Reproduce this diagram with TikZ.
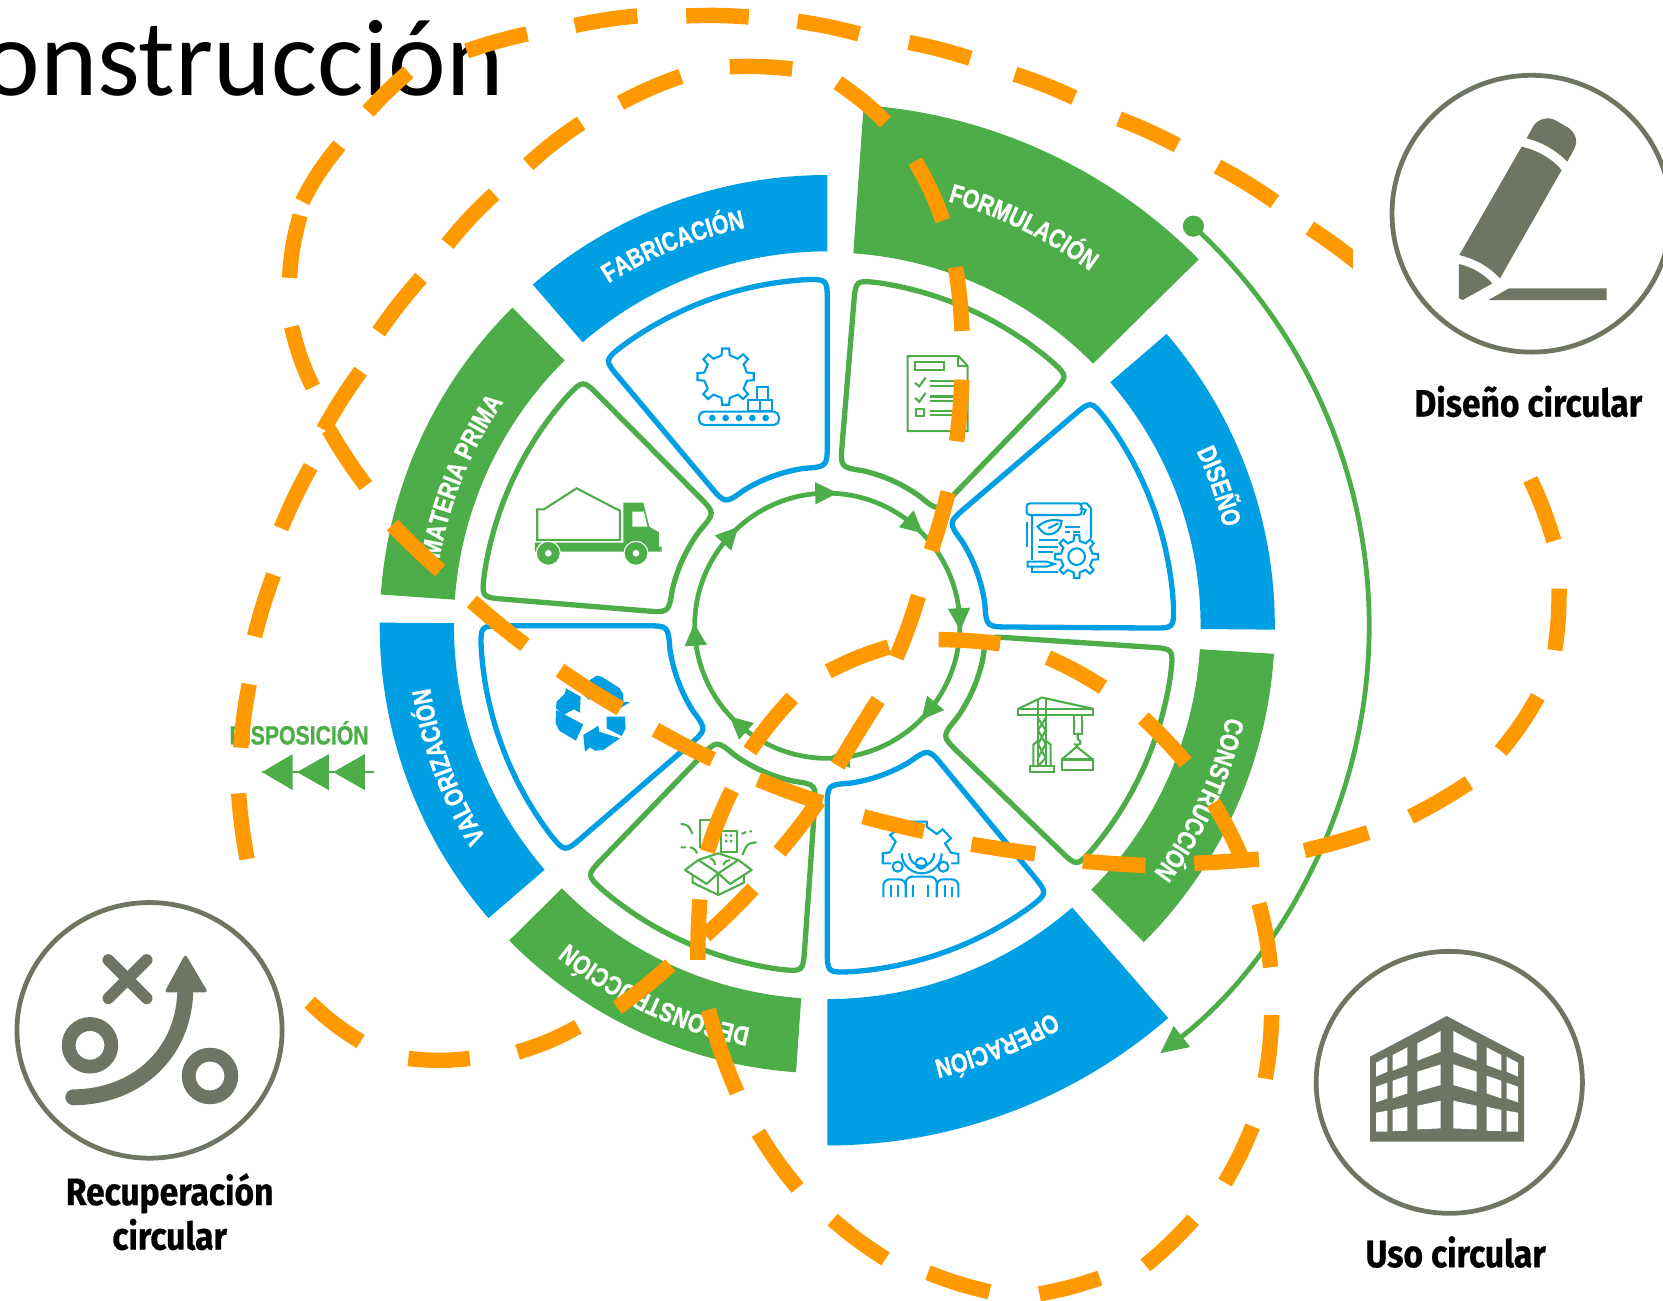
\documentclass[tikz,border=0pt]{standalone}
\usepackage{fontspec}
\usetikzlibrary{arrows.meta,decorations.text,shapes.geometric}
\newfontfamily\capfont[FakeStretch=0.88,FakeBold=0.6]{Fira Sans}
\newfontfamily\ringfont[FakeStretch=0.8,FakeBold=1]{Liberation Sans}
\newfontfamily\titlefont{Carlito}
\definecolor{ringgreen}{HTML}{4DAE49}
\definecolor{ringblue}{HTML}{009FE3}
\definecolor{dashorange}{HTML}{FF9900}
\definecolor{stonegray}{HTML}{6E7562}
\newcommand\ringseg[5]{\fill[#5] (#1:#4) arc[start angle=#1,end angle=#2,radius=#4] -- (#2:#3) arc[start angle=#2,end angle=#1,radius=#3] -- cycle;}
\newcommand\cellwedge[3]{\draw[cell,#3] ({#1-3.85}:327) arc[start angle={#1-3.85},end angle={#2+3.85},radius=327] .. controls (#2:327) .. (#2:305) -- (#2:172) .. controls (#2:150) .. ({#2+8.4}:150) arc[start angle={#2+8.4},end angle={#1-8.4},radius=150] .. controls (#1:150) .. (#1:172) -- (#1:305) .. controls (#1:327) .. cycle;}
\newcommand\ringlabel[3]{\path[decorate,decoration={text along path,text align=center,text={|\ringfont\bfseries\fontsize{25}{25}\selectfont\color{white}|#3}}] ({#1+40}:#2) arc[start angle={#1+40},end angle={#1-40},radius=#2];}
\newcommand\hubarrow[1]{\fill[ringgreen,shift={(#1:125)},rotate={#1-90}] (11,0) -- (-10,10.5) -- (-10,-10.5) -- cycle;}
\newcommand\gearwheel[5]{\draw[icon,fill=white,shift={(#1,#2)}] (-11:#3) \foreach \t in {0,#5,...,359} { -- ({\t-11}:#3) -- ({\t-7}:#4) -- ({\t+7}:#4) -- ({\t+11}:#3) } -- cycle;}
\newcommand\bldgwindows{\fill[white] (258,398) -- (292,380) -- (292,425) -- (258,440) -- cycle (308,375) -- (352,352) -- (352,405) -- (308,422) -- cycle (382,340) -- (452,303) -- (452,365) -- (382,392) -- cycle (258,470) -- (292,458) -- (292,505) -- (258,517) -- cycle (308,452) -- (352,437) -- (352,490) -- (308,505) -- cycle (382,425) -- (452,403) -- (452,465) -- (382,485) -- cycle (258,548) -- (292,542) -- (292,605) -- (258,605) -- cycle (308,540) -- (352,530) -- (352,602) -- (308,603) -- cycle (382,527) -- (452,512) -- (452,595) -- (382,598) -- cycle;}
\begin{document}
\begin{tikzpicture}[x=1pt,y=-1pt,
  cell/.style={line width=5pt},
  icon/.style={line width=2pt},
  odash/.style={dashorange,line width=14.5pt},
  roundel/.style={draw=stonegray,ellipse,line width=4.5pt,inner sep=0pt},
  caption/.style={font=\capfont\bfseries\fontsize{36}{42}\selectfont,align=center,inner sep=0pt},
  hubline/.style={ringgreen,line width=4.5pt}]
\useasboundingbox (0,0) rectangle (1568,1226);
\begin{scope}[shift={(780,590)},x=1pt,y=1pt]
\ringseg{86}{44.6}{352}{492}{ringgreen}
\ringseg{40.7}{-0.5}{352}{422}{ringblue}
\ringseg{-3.6}{-45}{352}{422}{ringgreen}
\ringseg{-49}{-90}{352}{490}{ringblue}
\ringseg{-94}{-135.3}{352}{422}{ringgreen}
\ringseg{-139.2}{-180.4}{352}{422}{ringblue}
\ringseg{176}{134.7}{352}{422}{ringgreen}
\ringseg{130.8}{90}{353}{425}{ringblue}
\cellwedge{85.3}{46}{ringgreen}
\cellwedge{40.5}{-0.4}{ringblue}
\cellwedge{-3.8}{-44}{ringgreen}
\cellwedge{-50.5}{-90}{ringblue}
\cellwedge{-94}{-134}{ringgreen}
\cellwedge{-139.2}{-180}{ringblue}
\cellwedge{175.3}{134.8}{ringgreen}
\cellwedge{130}{90}{ringblue}
\ringlabel{63.8}{416}{FORMULACIÓN}
\ringlabel{19.6}{385}{DISEÑO}
\ringlabel{-25}{386}{CONSTRUCCIÓN}
\ringlabel{-68}{422}{OPERACIÓN}
\ringlabel{-115}{386}{DECONSTRUCCIÓN}
\ringlabel{200.4}{379}{VALORIZACIÓN}
\ringlabel{157.8}{371}{MATERIA PRIMA}
\ringlabel{112.1}{383}{FABRICACIÓN}
\draw[hubline] (0,0) circle (125);
\hubarrow{90.6}
\hubarrow{49}
\hubarrow{3}
\hubarrow{-40}
\hubarrow{-85}
\hubarrow{-132}
\hubarrow{184}
\hubarrow{137}
\coordinate (arcstart) at (47.5:511);
\fill[ringgreen] (arcstart) circle (10);
\draw[ringgreen,line width=4.5pt,-{Triangle[length=26pt,width=24pt]}] (arcstart) arc[start angle=47.5,end angle=-52.1,radius=511];
\end{scope}
\begin{scope}[shift={(735.4,84.9)},x=.3143pt,y=-.3367pt,ringgreen]
\draw[icon] (383,745) -- (535,745) -- (563,772) -- (563,955) -- (383,955) -- cycle;
\draw[icon] (535,745) -- (535,772) -- (563,772);
\draw[icon] (405,762) rectangle (493,785);
\draw[icon] (405,820) -- (418,830) -- (437,805);
\draw[icon] (405,862) -- (418,873) -- (437,848);
\draw[icon] (408,892) rectangle (432,913);
\draw[icon] (450,815) -- (540,815) (450,828) -- (540,828) (450,858) -- (540,858) (450,871) -- (540,871) (450,898) -- (540,898) (450,911) -- (540,911);
\end{scope}
\begin{scope}[shift={(957,466.7)},x=.3143pt,y=-.3143pt,ringblue]
\draw[icon,rounded corners=3pt] (35,25) rectangle (200,60);
\draw[icon] (200,25) -- (215,25) -- (228,40) -- (228,130) (195,40) -- (212,45) -- (205,60);
\draw[icon] (52,60) -- (52,195) (35,82) -- (35,155);
\draw[icon] (38,200) -- (95,200) -- (118,207) -- (95,215) -- (38,215) -- cycle;
\draw[icon] (52,215) -- (52,232) -- (130,232);
\draw[icon] (68,95) .. controls (90,75) and (115,72) .. (140,78) .. controls (138,100) and (125,118) .. (100,118) .. controls (88,118) and (78,108) .. (68,95) -- cycle;
\draw[icon] (100,100) -- (130,85);
\draw[icon] (150,95) -- (195,95) (150,110) -- (165,110) (175,110) -- (195,110);
\draw[icon] (72,135) -- (128,135) (70,155) -- (130,155) (70,172) -- (115,172);
\gearwheel{185}{185}{48}{65}{45}
\draw[icon] (185,185) circle (25);
\end{scope}
\begin{scope}[shift={(339.4,141.4)},x=.3143pt,y=-.3143pt,ringblue]
\gearwheel{1097}{680}{65}{85}{45}
\draw[icon,fill=white] (1165,750) rectangle (1200,782);
\draw[icon,fill=white] (1200,750) rectangle (1237,782);
\draw[icon,fill=white] (1190,712) rectangle (1225,750);
\draw[icon,rounded corners=5pt] (1017,785) rectangle (1257,825);
\fill (1057,804) circle (10);
\fill (1097,804) circle (10);
\fill (1137,804) circle (10);
\fill (1177,804) circle (10);
\fill (1217,804) circle (10);
\end{scope}
\begin{scope}[shift={(339.4,141.4)},x=.3143pt,y=-.3143pt,ringgreen]
\draw[icon] (532,1170) -- (532,1078) -- (552,1078) -- (650,1015) -- (765,1075) -- (780,1082) -- (780,1170) -- cycle;
\fill (790,1058) -- (850,1058) -- (868,1130) -- (897,1147) -- (897,1190) -- (905,1190) -- (905,1205) -- (525,1205) -- (525,1178) -- (790,1178) -- cycle;
\fill[white] (817,1085) -- (852,1085) -- (862,1130) -- (817,1130) -- cycle;
\filldraw[draw=white,line width=1pt] (565,1210) circle (36);
\filldraw[draw=white,line width=1pt] (828,1210) circle (36);
\fill[white] (565,1210) circle (10);
\fill[white] (828,1210) circle (10);
\end{scope}
\begin{scope}[shift={(631.7,763.7)},x=.3143pt,y=-.3143pt,ringgreen]
\draw[icon] (90,115) -- (90,30) -- (135,30) -- (135,115);
\draw[icon] (152,125) -- (152,62) -- (202,62) -- (202,125) -- cycle;
\fill (165,73) rectangle (172,80) (180,73) rectangle (187,80) (165,90) rectangle (172,97) (180,90) rectangle (187,97);
\draw[icon] (32,42) .. controls (55,45) .. (68,72);
\draw[icon] (32,112) -- (48,112) (60,112) .. controls (72,115) .. (82,130);
\draw[icon] (260,97) .. controls (232,100) .. (217,135);
\draw[icon] (215,72) -- (228,66) (238,64) -- (246,64);
\draw[icon] (120,145) .. controls (132,150) .. (135,165) (160,165) .. controls (165,155) .. (180,150);
\draw[icon,line join=round] (45,180) -- (85,150) -- (145,190) -- (205,150) -- (245,180) -- (180,222) -- (145,190) -- (110,222) -- cycle;
\draw[icon] (85,150) -- (145,130) -- (205,150);
\draw[icon] (68,195) -- (68,218) -- (145,255) -- (222,218) -- (222,195);
\draw[icon] (145,190) -- (145,255);
\end{scope}
\begin{scope}[shift={(754.3,584.6)},x=.3143pt,y=-.3247pt,ringgreen]
\draw[icon] (655,258) rectangle (880,275);
\draw[icon] (655,258) -- (725,225) -- (880,258);
\draw[icon] (714,230) -- (714,425) (737,230) -- (737,425);
\draw[icon] (714,285) -- (737,320) -- (714,360) -- (737,400) -- (714,425);
\draw[icon] (737,285) -- (714,320) -- (737,360) -- (714,400);
\draw[icon] (700,425) -- (700,362) -- (714,350) (752,425) -- (752,362) -- (737,350);
\draw[icon] (690,425) rectangle (763,442);
\draw[icon] (822,275) rectangle (845,330);
\draw[icon] (833,330) -- (833,345) .. controls (850,355) and (840,368) .. (822,360);
\draw[icon] (785,405) -- (830,368) -- (878,405);
\draw[icon] (785,405) rectangle (880,435);
\end{scope}
\begin{scope}[shift={(815.6,763.7)},x=.3143pt,y=-.3143pt,ringblue]
\draw[icon] (78,160) -- (53,160) -- (53,130) -- (75,127) -- (92,95) -- (75,75) -- (100,58) -- (115,50) -- (115,35) -- (185,35) -- (185,50) -- (215,72) -- (233,58) -- (258,85) -- (240,100) -- (258,128) -- (280,132) -- (280,160) -- (258,160);
\draw[icon] (110,130) arc[start angle=180,end angle=0,radius=60];
\draw[icon] (132,130) arc[start angle=180,end angle=0,radius=38];
\draw[icon] (98,170) circle (15);
\draw[icon] (168,160) circle (16);
\draw[icon] (235,170) circle (15);
\draw[icon,rounded corners=6pt] (55,262) -- (55,208) -- (122,208) -- (122,262);
\draw[icon,rounded corners=6pt] (122,225) -- (122,200) -- (215,200) -- (215,225);
\draw[icon,rounded corners=6pt] (215,262) -- (215,208) -- (280,208) -- (280,262);
\draw[icon] (78,225) -- (78,262) (100,225) -- (100,262) (145,225) -- (145,262) (190,225) -- (190,262) (240,225) -- (240,262) (260,232) -- (260,262);
\end{scope}
\begin{scope}[shift={(509.1,622.3)},x=.3143pt,y=-.3143pt,ringblue]
\fill (150,60) -- (170,47) -- (185,50) -- (240,85) -- (250,103) -- (250,125) -- (270,127) -- (222,155) -- (185,115) -- (190,90) -- (170,80) -- (148,120) -- (125,100) -- cycle;
\fill (50,125) -- (75,100) -- (78,85) -- (122,110) -- (120,158) -- (102,148) -- (70,165) -- (48,145) -- cycle;
\fill (48,150) -- (130,193) -- (108,242) -- (58,212) -- (47,190) -- cycle;
\fill (200,170) -- (255,170) -- (257,205) -- (245,228) -- (200,205) -- cycle;
\fill (130,225) -- (175,197) -- (178,215) -- (240,235) -- (190,270) -- (165,272) -- (150,262) -- (135,275) -- cycle;
\end{scope}
\node (disposicion)[text=ringgreen,font=\ringfont\bfseries\fontsize{25}{25}\selectfont,inner sep=0pt] at (282,691) {DISPOSICIÓN};
\coordinate (flecha) at (353,728);
\coordinate (flechafin) at (247,728);
\draw[ringgreen,line width=2pt] (flecha) -- (flechafin);
\fill[ringgreen] (247,728) -- (276,711) -- (276,745) -- cycle;
\fill[ringgreen] (280,728) -- (310,711) -- (310,745) -- cycle;
\fill[ringgreen] (314,728) -- (344,711) -- (344,745) -- cycle;
\node (diseno)[roundel,minimum width=263pt,minimum height=261pt] at (1444,201.5) {};
\node (disenotxt)[caption,below of=diseno,node distance=177pt,xshift=-3pt] {Diseño circular};
\node (recup)[roundel,minimum width=250pt,minimum height=241pt] at (141,971.5) {};
\node (recuptxt)[caption,below of=recup,node distance=171pt,xshift=19pt] {Recuperación\\circular};
\node (uso)[roundel,minimum width=251pt,minimum height=247pt] at (1366.5,1020.5) {};
\node (usotxt)[caption,below of=uso,node distance=160pt,xshift=6pt] {Uso circular};
\begin{scope}[shift={(1225.7,56.6)},x=.3143pt,y=-.3143pt,stonegray]
\fill (665,260) .. controls (715,272) and (755,295) .. (785,330) -- (600,655) .. controls (570,622) and (530,598) .. (478,585) -- cycle;
\fill (680,235) -- (700,198) .. controls (715,175) and (745,170) .. (765,180) -- (805,203) .. controls (828,220) and (835,245) .. (822,268) -- (802,305) .. controls (770,272) and (730,248) .. (680,235) -- cycle;
\fill (477,612) .. controls (520,622) and (555,645) .. (577,670) -- (488,720) -- (477,715) -- cycle;
\fill (565,720) -- (627,685) -- (920,685) -- (920,720) -- cycle;
\end{scope}
\begin{scope}[shift={(0,829.7)},x=.3143pt,y=-.3143pt,stonegray]
\draw[line width=11pt,line cap=round] (325,240) -- (440,355) (440,240) -- (325,355);
\draw[line width=13pt] (270,496) circle (64);
\draw[line width=13pt] (630,588) circle (64);
\draw[line width=15pt,line cap=round] (220,652) .. controls (420,650) and (556,510) .. (556,325);
\fill[rounded corners=3pt] (556,222) -- (624,337) -- (493,337) -- cycle;
\end{scope}
\begin{scope}[shift={(1216.3,876.9)},x=.3143pt,y=-.3143pt,stonegray]
\fill (240,380) -- (470,258) -- (702,380) -- (702,635) -- (240,635) -- cycle;
\bldgwindows
\begin{scope}[xshift=942*.3143pt,xscale=-1]
\bldgwindows
\end{scope}
\end{scope}
\node (titulo)[anchor=base east,inner sep=0pt,font=\titlefont\fontsize{103}{103}\selectfont] at (475,90) {onstrucción};
\begin{scope}
\clip (1200,150) rectangle (1275.5,300);
\draw[odash] (1290,256) to[bend right=3] (1235,215);
\end{scope}
\draw[odash] (1202,190) to[bend right=3] (1148,157);
\draw[odash] (1110,137) to[bend right=3] (1055,112);
\draw[odash] (1013,92) to[bend right=3] (957,70);
\draw[odash] (915,55) to[bend right=3] (857,40);
\draw[odash] (810,32) to[bend right=3] (752,20);
\draw[odash] (706,16) to[bend right=3] (647,15);
\draw[odash] (601,15) to[bend right=3] (542,24);
\draw[odash] (497,32) to[bend right=3] (440,48);
\draw[odash] (385,68) to[bend right=3] (347,105);
\draw[odash] (320,137) to[bend right=6] (285,190);
\draw[odash] (283,203) to[bend right=6] (273,262);
\draw[odash] (275,308) to[bend right=6] (295,365);
\draw[odash] (310,405) to[bend right=3] (345,458);
\draw[odash] (370,495) to[bend right=2] (415,538);
\draw[odash] (445,567) to[bend right=2] (495,608);
\draw[odash] (528,632) to[bend right=2] (585,668);
\draw[odash] (618,688) to[bend right=2] (672,716);
\draw[odash] (715,735) to[bend right=2] (775,757);
\draw[odash] (814,770) to[bend right=1] (871,784);
\draw[odash] (916,796) to[bend right=1] (976,805);
\draw[odash] (1021,812) to[bend right=1] (1080,816);
\draw[odash] (1126,814) to[bend right=1] (1187,810);
\draw[odash] (1230,802) to[bend right=2] (1290,785);
\draw[odash] (1330,770) to[bend right=3] (1385,738);
\draw[odash] (1415,708) to[bend right=5] (1450,657);
\draw[odash] (1466,613) to[bend right=4] (1470,555);
\draw[odash] (1465,510) to[bend right=4] (1443,452);
\draw[odash] (781,633) to[bend left=5] (838,610);
\draw[odash] (845,620) to[bend right=3] (866,562);
\draw[odash] (878,519) to[bend right=2] (894,464);
\draw[odash] (902,416) to[bend right=2] (907,358);
\draw[odash] (907,312) to[bend right=3] (901,252);
\draw[odash] (889,208) to[bend right=5] (863,152);
\draw[odash] (835,115) to[bend right=5] (790,78);
\draw[odash] (747,65) to[bend right=4] (688,63);
\draw[odash] (642,72) to[bend right=4] (585,97);
\draw[odash] (548,116) to[bend right=4] (498,155);
\draw[odash] (466,183) to[bend right=4] (422,230);
\draw[odash] (397,262) to[bend right=3] (357,313);
\draw[odash] (340,350) to[bend right=3] (305,405);
\draw[odash] (293,440) to[bend right=3] (265,498);
\draw[odash] (258,542) to[bend right=3] (240,600);
\draw[odash] (235,645) to[bend right=3] (227,705);
\draw[odash] (225,748) to[bend right=3] (233,810);
\draw[odash] (292,945) to[bend right=6] (340,982);
\draw[odash] (385,998) to[bend right=6] (443,998);
\draw[odash] (488,992) to[bend right=6] (545,968);
\draw[odash] (582,950) to[bend right=3] (632,910);
\draw[odash] (665,882) to[bend right=2] (710,838);
\draw[odash] (735,803) to[bend right=2] (772,755);
\draw[odash] (885,603) to[bend left=3] (943,607);
\draw[odash] (988,620) to[bend left=4] (1040,648);
\draw[odash] (1078,677) to[bend left=3] (1118,719);
\draw[odash] (1144,757) to[bend left=4] (1172,812);
\draw[odash] (1187,852) to[bend left=4] (1198,912);
\draw[odash] (1199,957) to[bend left=4] (1193,1017);
\draw[odash] (1181,1062) to[bend left=4] (1155,1115);
\draw[odash] (1125,1150) to[bend left=4] (1080,1193);
\draw[odash] (1037,1205) to[bend left=4] (980,1220);
\draw[odash] (933,1218) to[bend left=4] (875,1200);
\draw[odash] (835,1187) to[bend left=4] (785,1150);
\draw[odash] (752,1120) to[bend left=4] (715,1068);
\draw[odash] (695,1030) to[bend left=4] (668,952);
\draw[odash] (658,905) to[bend left=2] (660,848);
\draw[odash] (667,803) to[bend left=4] (690,745);
\draw[odash] (707,708) to[bend left=4] (747,658);
\draw[odash] (790,722) to[bend left=1] (828,660);
\end{tikzpicture}
\end{document}
